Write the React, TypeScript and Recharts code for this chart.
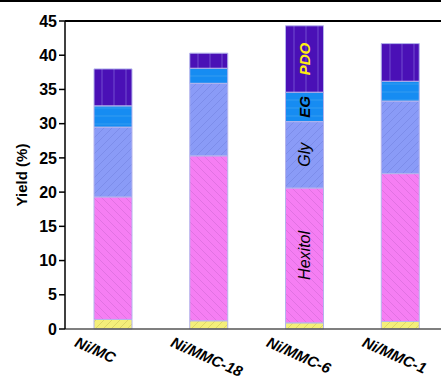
import React from "react";
import {
  BarChart,
  Bar,
  XAxis,
  YAxis,
  ReferenceLine,
  LabelList,
  Label,
} from "recharts";

const categories = ["Ni/MC", "Ni/MMC-18", "Ni/MMC-6", "Ni/MMC-1"];
const others = [1.4, 1.2, 0.9, 1.1];
const hexitol = [17.9, 24.1, 19.7, 21.6];
const gly = [10.2, 10.6, 9.7, 10.6];
const eg = [3.1, 2.2, 4.3, 2.9];
const pdo = [5.4, 2.2, 9.7, 5.5];
const yTicks = [0, 5, 10, 15, 20, 25, 30, 35, 40, 45];

const data = categories.map((name, i) => ({
  name,
  others: others[i],
  hexitol: hexitol[i],
  gly: gly[i],
  eg: eg[i],
  pdo: pdo[i],
}));

const FONT = '"Liberation Sans", Arial, sans-serif';
const STROKE = "#b4b4ec";

// hatch fills shared by the bar segments
const Patterns = () => (
  <svg width={0} height={0} style={{ position: "absolute" }}>
    <defs>
      <pattern id="patYellow" width={8} height={8} patternUnits="userSpaceOnUse">
        <rect width={8} height={8} fill="#f4ef7a" />
        <path d="M0,8 L8,0 M-4,4 L4,-4 M4,12 L12,4" stroke="#cdc45a" strokeWidth={0.6} />
      </pattern>
      <pattern id="patPink" width={8} height={8} patternUnits="userSpaceOnUse">
        <rect width={8} height={8} fill="#f57ef3" />
        <path d="M0,0 L8,8 M-4,4 L4,12 M4,-4 L12,4" stroke="#cc66d0" strokeWidth={0.5} />
      </pattern>
      <pattern id="patGly" width={8} height={8} patternUnits="userSpaceOnUse">
        <rect width={8} height={8} fill="#8a9bf7" />
        <path d="M0,8 L8,0 M-4,4 L4,-4 M4,12 L12,4" stroke="#707fdc" strokeWidth={0.5} />
      </pattern>
      <pattern id="patEG" width={10} height={8} patternUnits="userSpaceOnUse">
        <rect width={10} height={8} fill="#168cf2" />
        <path d="M0,4 L10,4" stroke="#4aa6ee" strokeWidth={0.6} />
      </pattern>
      <pattern id="patPDO" width={12} height={10} patternUnits="userSpaceOnUse">
        <rect width={12} height={10} fill="#4a10b6" />
        <path d="M6,0 L6,10" stroke="#7a5ad6" strokeWidth={0.8} />
      </pattern>
    </defs>
  </svg>
);

// product names written inside the Ni/MMC-6 column
const segmentLabel = (text: string, color: string, weight: string, size: number) =>
  (props: any) => {
    const { x, y, width, height, index } = props;
    if (index !== 2) return null;
    const cx = Number(x) + Number(width) / 2;
    const cy = Number(y) + Number(height) / 2;
    return (
      <text
        x={cx}
        y={cy}
        transform={`rotate(-90 ${cx} ${cy})`}
        textAnchor="middle"
        dominantBaseline="central"
        fill={color}
        fontFamily={FONT}
        fontStyle="italic"
        fontWeight={weight}
        fontSize={size}
      >
        {text}
      </text>
    );
  };

const CategoryTick = (props: any) => {
  const { x, payload } = props;
  const ox = Number(x) - 39;
  const oy = 346;
  return (
    <text
      x={ox}
      y={oy}
      transform={`rotate(24 ${ox} ${oy})`}
      textAnchor="start"
      fill="#000"
      fontFamily={FONT}
      fontStyle="italic"
      fontWeight="bold"
      fontSize={15}
    >
      {payload.value}
    </text>
  );
};

export default function App() {
  return (
    <div
      style={{
        position: "fixed",
        left: 0,
        top: 0,
        width: 441,
        height: 380,
        overflow: "hidden",
        background: "#fff",
      }}
    >
      <Patterns />
      <div style={{ position: "absolute", left: 0, top: 0, width: 441, height: 2, background: "#000" }} />
      <BarChart
        width={460}
        height={380}
        data={data}
        margin={{ top: 21, right: 12, left: 0, bottom: 0 }}
        barSize={38}
      >
        <XAxis
          dataKey="name"
          height={51}
          stroke="#555"
          strokeWidth={1.5}
          tickLine={false}
          tick={<CategoryTick />}
          interval={0}
        />
        <YAxis
          width={65}
          domain={[0, 45]}
          ticks={yTicks}
          interval={0}
          stroke="#000"
          strokeWidth={1.5}
          tickSize={6}
          tickMargin={2}
          tick={{ fill: "#000", fontFamily: FONT, fontWeight: "bold", fontSize: 16 }}
        >
          <Label
            content={() => (
              <text
                x={27}
                y={175}
                transform="rotate(-90 27 175)"
                textAnchor="middle"
                fill="#000"
                fontFamily={FONT}
                fontWeight="bold"
                fontSize={15}
              >
                Yield (%)
              </text>
            )}
          />
        </YAxis>
        <ReferenceLine y={45} stroke="#000" strokeWidth={2} />
        <Bar dataKey="others" stackId="y" fill="url(#patYellow)" stroke={STROKE} strokeWidth={1} isAnimationActive={false} />
        <Bar dataKey="hexitol" stackId="y" fill="url(#patPink)" stroke={STROKE} strokeWidth={1} isAnimationActive={false}>
          <LabelList content={segmentLabel("Hexitol", "#000", "normal", 16)} />
        </Bar>
        <Bar dataKey="gly" stackId="y" fill="url(#patGly)" stroke={STROKE} strokeWidth={1} isAnimationActive={false}>
          <LabelList content={segmentLabel("Gly", "#000", "normal", 16)} />
        </Bar>
        <Bar dataKey="eg" stackId="y" fill="url(#patEG)" stroke={STROKE} strokeWidth={1} isAnimationActive={false}>
          <LabelList content={segmentLabel("EG", "#000", "bold", 15)} />
        </Bar>
        <Bar dataKey="pdo" stackId="y" fill="url(#patPDO)" stroke={STROKE} strokeWidth={1} isAnimationActive={false}>
          <LabelList content={segmentLabel("PDO", "#ffee10", "bold", 15)} />
        </Bar>
      </BarChart>
    </div>
  );
}
